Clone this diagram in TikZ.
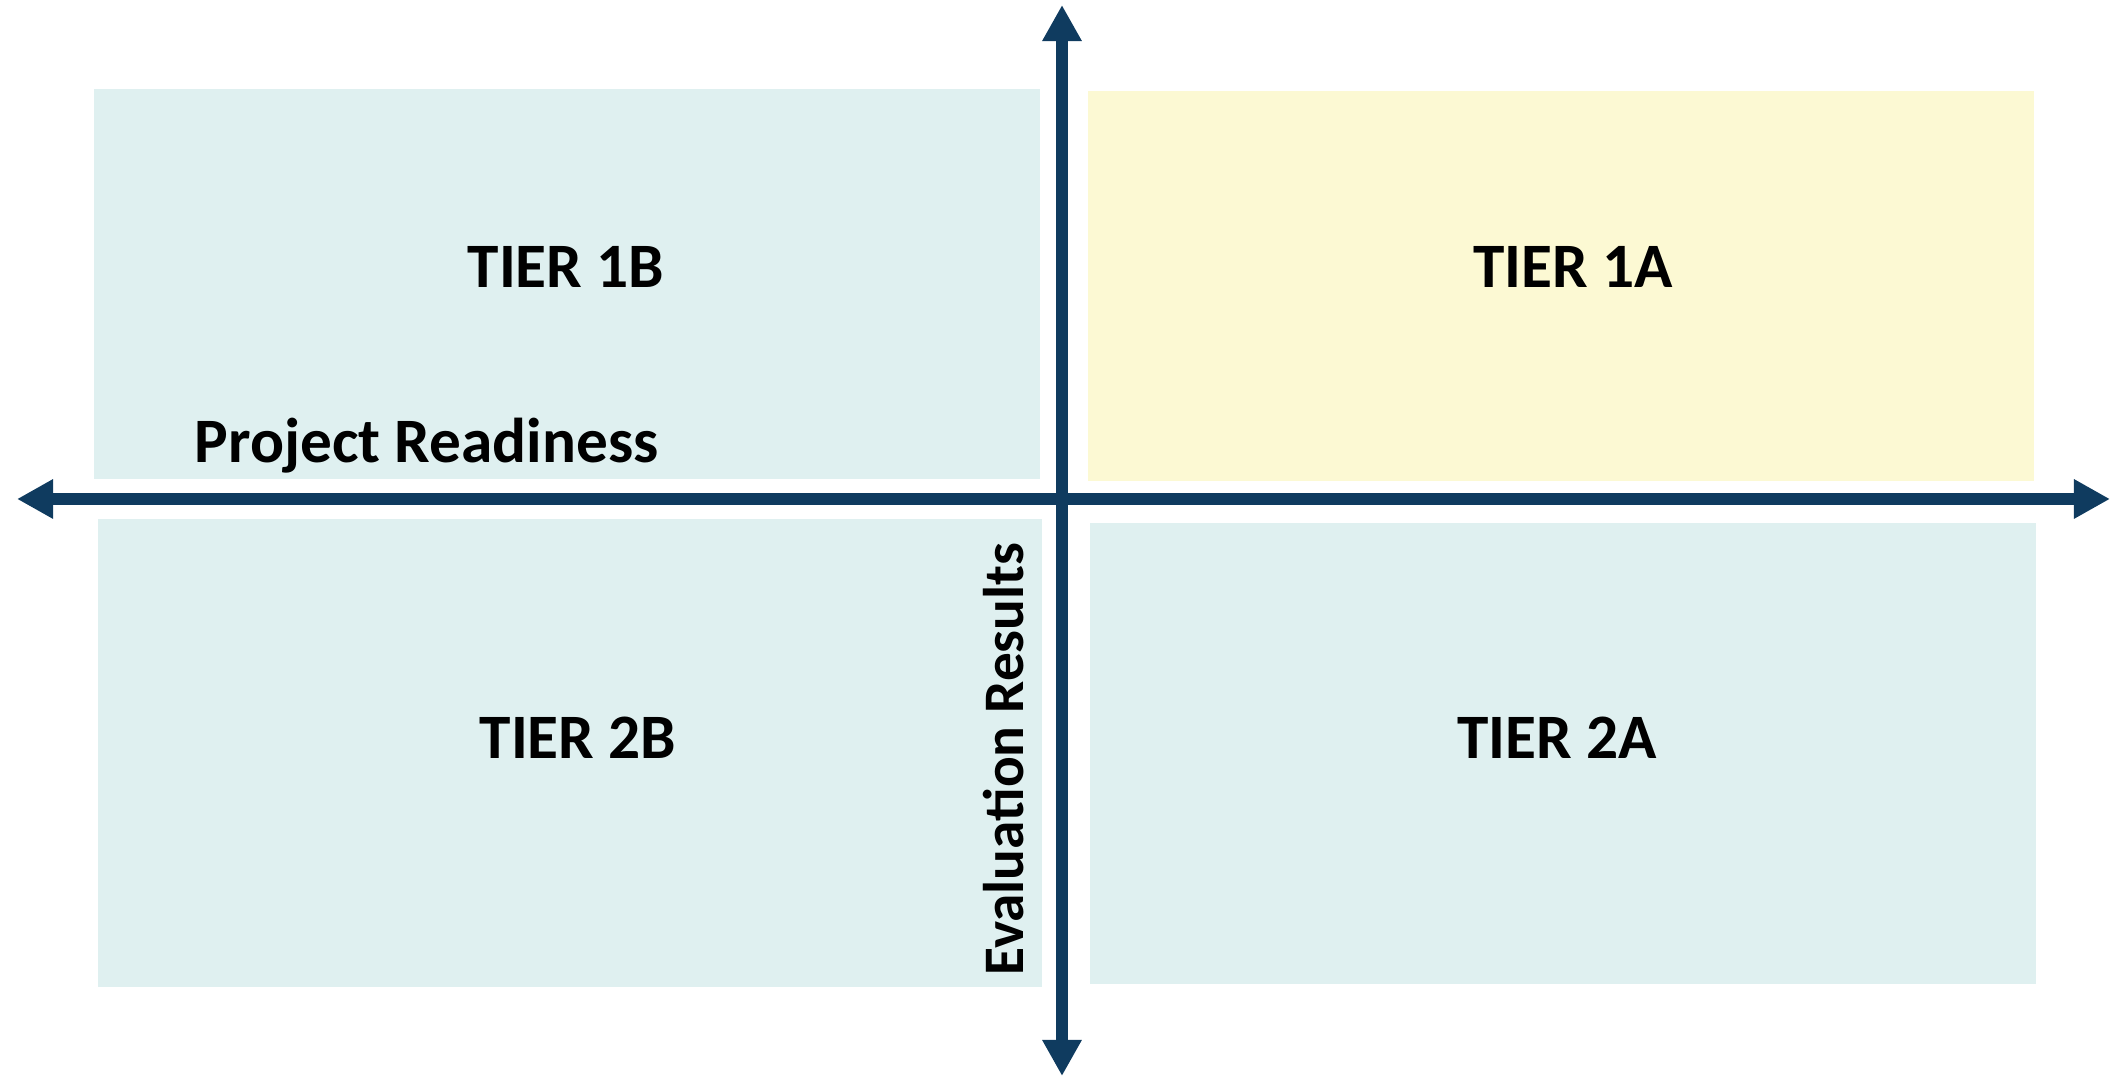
\documentclass[tikz,border=0pt]{standalone}
\usepackage{fontspec}
\setmainfont{Carlito}
\usetikzlibrary{arrows.meta}
\definecolor{tierblue}{RGB}{223,240,240}
\definecolor{tieryellow}{RGB}{252,249,211}
\definecolor{axisblue}{RGB}{15,59,95}
\tikzset{
    tierlabel/.style={font=\fontsize{18}{21}\selectfont\bfseries},
    axislabel/.style={font=\fontsize{18}{21}\selectfont\bfseries, inner sep=0pt},
    axisline/.style={draw=axisblue, line width=0.12cm,
        {Triangle[length=0.36cm, width=0.37cm]}-{Triangle[length=0.36cm, width=0.37cm]}}
}
\begin{document}
\begin{tikzpicture}[x=0.01cm, y=-0.01cm]
        \useasboundingbox (0,0) rectangle (2123,1077);

        \fill[tierblue] (94,89) rectangle (1040,479);
        \fill[tieryellow] (1088,91) rectangle (2034,481);
        \fill[tierblue] (98,519) rectangle (1042,987);
        \fill[tierblue] (1090,523) rectangle (2036,984);

        \node[tierlabel] (t1b) at (566,267) {TIER 1B};
        \node[tierlabel] (t1a) at (1573,267) {TIER 1A};
        \node[tierlabel] (t2b) at (578,738) {TIER 2B};
        \node[tierlabel] (t2a) at (1557,738) {TIER 2A};

        \coordinate (west) at (17,499);
        \coordinate (east) at (2110,499);
        \coordinate (north) at (1062,5);
        \coordinate (south) at (1062,1076);
        \path[axisline] (west) -- (east);
        \path[axisline] (south) -- (north);

        \node[axislabel, anchor=base west] (ready) at (194,463) {Project Readiness};
        \node[axislabel, font=\fontsize{16.3}{19}\selectfont\bfseries, anchor=base, rotate=90] (eval) at (1023,759) {Evaluation Results};
    \end{tikzpicture}
\end{document}
